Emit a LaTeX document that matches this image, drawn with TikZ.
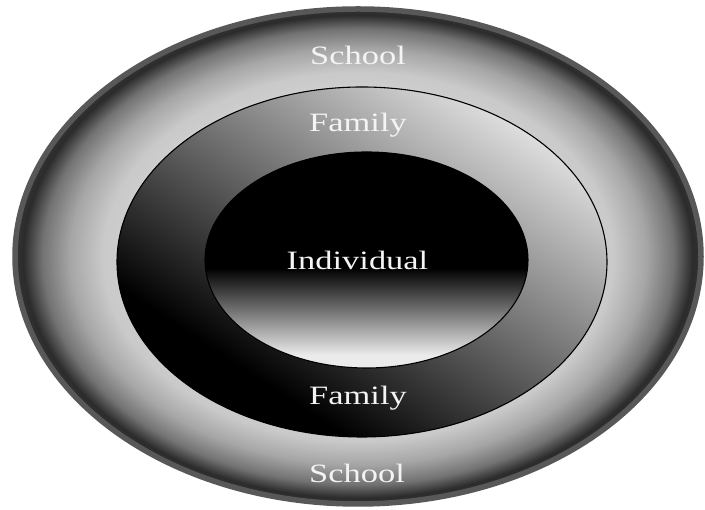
\documentclass[tikz,border=0pt]{standalone}
\usepackage{fontspec}
\setmainfont{Liberation Serif}
\definecolor{rimgray}{HTML}{585858}
\definecolor{txt}{HTML}{F4F4F4}
\pgfdeclareradialshading{schoolring}{\pgfpoint{0bp}{0bp}}{%
 color(0bp)=(white);
 color(16bp)=(white!85!black);
 color(17.6bp)=(white!80!black);
 color(18.6bp)=(white!79!black);
 color(21bp)=(white!65!black);
 color(23bp)=(white!45!black);
 color(24.4bp)=(white!17!black);
 color(25bp)=(white!20!black);
 color(50bp)=(white!20!black)}
\tikzset{
  lbl/.style={text=txt, font=\fontsize{26.5}{30}\selectfont, anchor=base, inner sep=0pt},
  ringline/.style={draw=black, line width=1.1pt}
}
\begin{document}
\begin{tikzpicture}[x=1pt,y=1pt]
\useasboundingbox[fill=white] (0,0) rectangle (705,510);
% outer ellipse (School)
\shade[shading=schoolring] (358,253.5) ellipse [x radius=343, y radius=247.5];
\draw[rimgray, line width=5.5pt] (358,253.5) ellipse [x radius=343, y radius=247.5];
% middle ellipse (Family)
\begin{scope}
  \clip (362,248) ellipse [x radius=245, y radius=175];
  \fill[black] (362,248) ellipse [x radius=245, y radius=175];
  \begin{scope}[transform canvas={rotate around={-33.2:(362,248)}}]
    \shade[bottom color=black, top color=white] (62,93.5) rectangle (662,500);
  \end{scope}
\end{scope}
\draw[ringline] (362,248) ellipse [x radius=245, y radius=175];
% inner ellipse (Individual)
\begin{scope}
  \clip (366.5,250) ellipse [x radius=161.5, y radius=108];
  \fill[black] (366.5,250) ellipse [x radius=161.5, y radius=108];
  \shade[top color=black, middle color=black!55, bottom color=white!92!black] (200,155) rectangle (535,242);
  \fill[white!92!black] (200,135) rectangle (535,155);
\end{scope}
\draw[ringline] (366.5,250) ellipse [x radius=161.5, y radius=108];
% labels
\node[lbl] (schooltop) at (358,445.5) {\scalebox{1.3}[1]{School}};
\node[lbl] (familytop) at (358,378.3) {\scalebox{1.3}[1]{Family}};
\node[lbl] (individual) at (357.5,240.7) {\scalebox{1.3}[1]{Individual}};
\node[lbl] (familybot) at (358,105) {\scalebox{1.3}[1]{Family}};
\node[lbl] (schoolbot) at (357,27.7) {\scalebox{1.3}[1]{School}};
\end{tikzpicture}
\end{document}
